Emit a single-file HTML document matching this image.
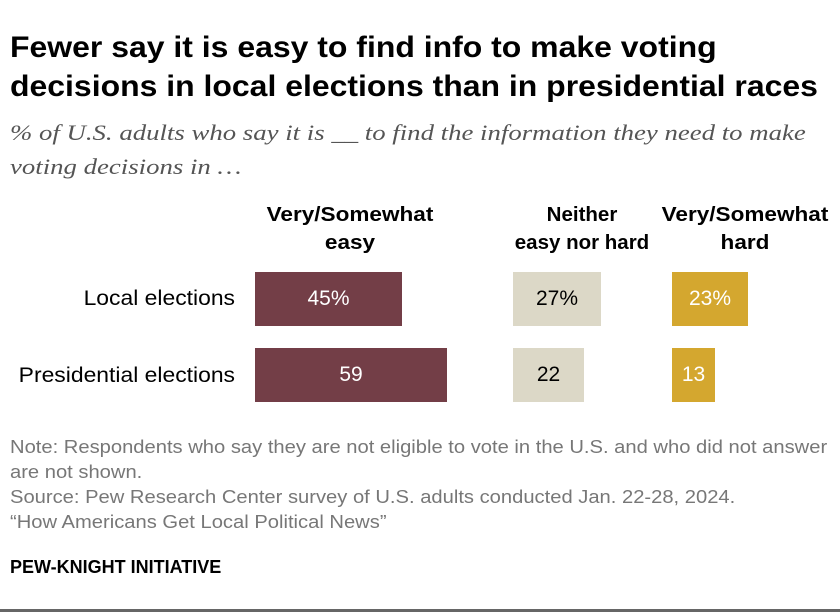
<!DOCTYPE html>
<html><head><style>
body{margin:0;width:840px;height:612px;background:#fff;font-family:"Liberation Sans",sans-serif;position:relative;overflow:hidden}
.a{position:absolute;white-space:nowrap}
.t{left:10px;top:28px;font-size:30px;font-weight:bold;line-height:39px;color:#000;transform:scaleX(1.065);transform-origin:left top}
.s{left:10px;top:116px;font-family:"Liberation Serif",serif;font-style:italic;font-size:22.5px;line-height:34px;color:#555;transform:scaleX(1.19);transform-origin:left top}
.h{font-size:20.5px;font-weight:bold;text-align:center;line-height:28px;color:#000;transform:scaleX(1.1)}
.lab{font-size:21px;color:#000;text-align:right;width:235px;left:0;transform:scaleX(1.09);transform-origin:right top}
.b{position:absolute;display:flex;align-items:center;justify-content:center;font-size:21px}
.n{font-size:18.5px;color:#777;left:10px;line-height:25px;transform:scaleX(1.09);transform-origin:left top}
</style></head><body>
<div class="a t">Fewer say it is easy to find info to make voting<br>decisions in local elections than in presidential races</div>
<div class="a s">% of U.S. adults who say it is __ to find the information they need to make<br>voting decisions in …</div>
<div class="a h" style="left:250px;width:200px;top:201px">Very/Somewhat<br>easy</div>
<div class="a h" style="left:482px;width:200px;top:201px;transform:scaleX(1.0)">Neither<br>easy nor hard</div>
<div class="a h" style="left:645px;width:200px;top:201px">Very/Somewhat<br>hard</div>
<div class="a lab" style="top:287px">Local elections</div>
<div class="a lab" style="top:364px">Presidential elections</div>
<div class="b" style="left:255px;top:272px;width:147px;height:54px;background:#733e47;color:#fff">45%</div>
<div class="b" style="left:255px;top:348px;width:192px;height:54px;background:#733e47;color:#fff">59</div>
<div class="b" style="left:513px;top:272px;width:88px;height:54px;background:#dcd8c7;color:#000">27%</div>
<div class="b" style="left:513px;top:348px;width:71px;height:54px;background:#dcd8c7;color:#000">22</div>
<div class="b" style="left:672px;top:272px;width:76px;height:54px;background:#d4a72f;color:#fff">23%</div>
<div class="b" style="left:672px;top:348px;width:43px;height:54px;background:#d4a72f;color:#fff">13</div>
<div class="a n" style="top:434px">Note: Respondents who say they are not eligible to vote in the U.S. and who did not answer<br>are not shown.<br>Source: Pew Research Center survey of U.S. adults conducted Jan. 22-28, 2024.<br>“How Americans Get Local Political News”</div>
<div class="a" style="left:10px;top:557px;font-size:18px;font-weight:bold;color:#000">PEW-KNIGHT INITIATIVE</div>
<div class="a" style="left:0;top:609px;width:840px;height:3px;background:#666"></div>
</body></html>
